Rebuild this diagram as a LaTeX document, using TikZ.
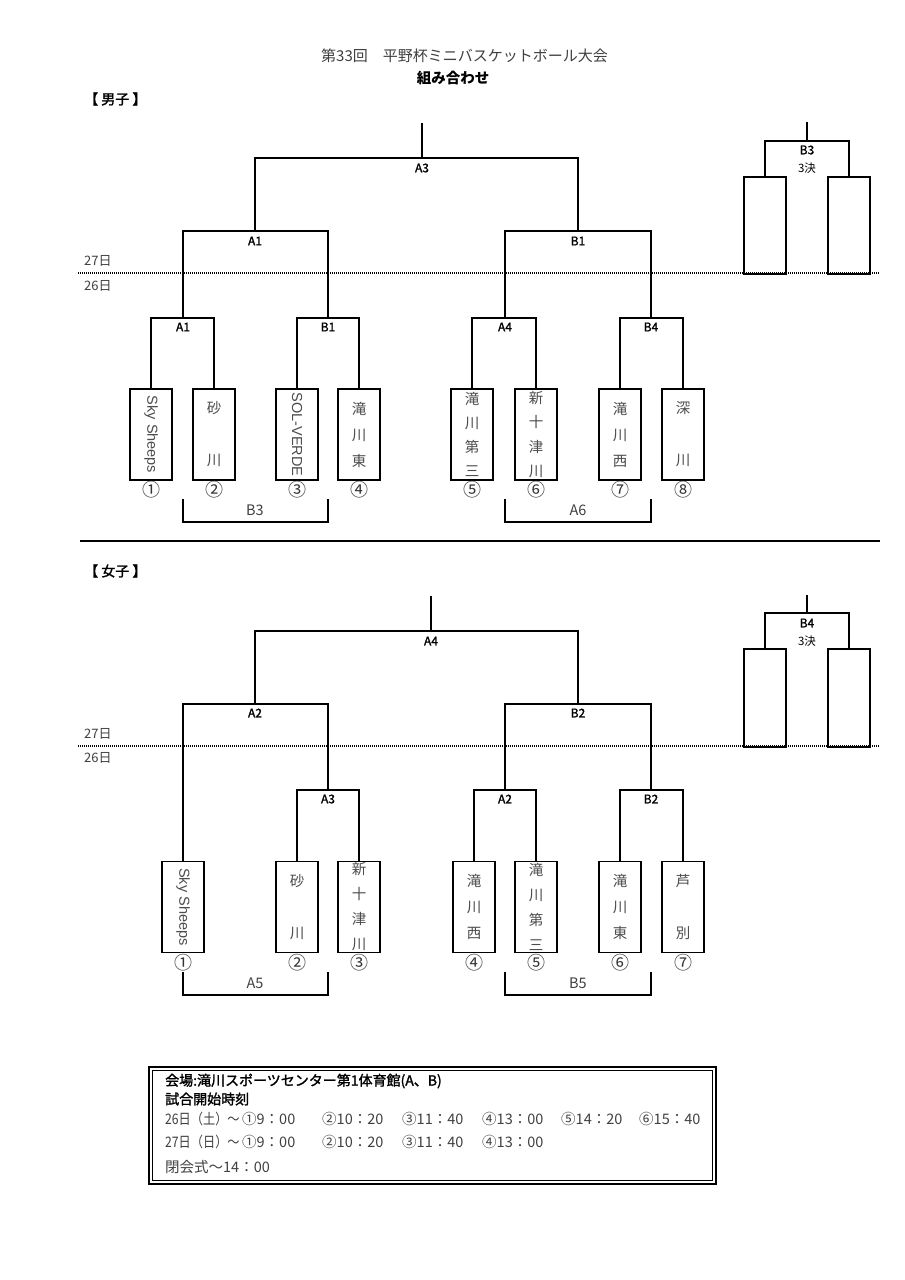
\documentclass[tikz,border=0pt]{standalone}
\usepackage{fontspec}
\usepackage{graphicx}
\setmainfont{Noto Sans CJK JP}
\newfontfamily\latinsans{Liberation Sans}
\newfontfamily\semibold{Noto Sans CJK JP}[FakeBold=1.6]
\tikzset{
  ln/.style={line width=1.8pt, black},
  teambox/.style={draw, line width=1.8pt, minimum width=42pt, minimum height=91pt, inner sep=0pt,
    text=black!70, font=\fontsize{14.5}{26}\selectfont, align=center},
  tinybox/.style={draw, line width=1.8pt, minimum width=42pt, minimum height=97pt, inner sep=0pt},
  lab/.style={font=\fontsize{12}{12}\selectfont\semibold, inner sep=0pt},
  numlab/.style={font=\fontsize{18}{18}\selectfont, text=black!80, inner sep=0pt},
  blab/.style={font=\fontsize{14.5}{14.5}\selectfont, text=black!75, inner sep=0pt},
  daylab/.style={font=\fontsize{13}{13}\selectfont, text=black!75, inner sep=0pt, anchor=west},
  dotline/.style={line width=1.1pt, dash pattern=on 1pt off 1pt},
  infob/.style={font=\fontsize{14}{14}\selectfont\semibold, inner sep=0pt, anchor=west},
  infor/.style={font=\fontsize{14.5}{14.5}\selectfont, text=black!75, inner sep=0pt, anchor=west},
}
\newcommand{\rotname}[1]{\rotatebox{-90}{\latinsans\fontsize{14.5}{15}\selectfont #1}}
\begin{document}
\begin{tikzpicture}[x=1pt,y=-1pt]
\fill[white] (0,0) rectangle (905,1280);
\useasboundingbox (0,0) rectangle (905,1280);

% ---------- titles ----------
\node[font=\fontsize{15}{15}\selectfont, text=black!75, inner sep=0pt] (title) at (464.5,56) {第33回　平野杯ミニバスケットボール大会};
\node[font=\fontsize{14.5}{14.5}\selectfont\bfseries, inner sep=0pt] (subtitle) at (453,78) {組み合わせ};
\node[font=\fontsize{14}{14}\selectfont\semibold, inner sep=0pt, anchor=west] (boys) at (84,99) {【 男子 】};
\node[font=\fontsize{14}{14}\selectfont\semibold, inner sep=0pt, anchor=west] (girls) at (84,571) {【 女子 】};

% ---------- boys ----------
\coordinate (bdl) at (78,273);
\coordinate (bdr) at (880,273);
\draw[dotline] (bdl) -- (bdr);
\node[daylab] (b27) at (84,261) {27日};
\node[daylab] (b26) at (84,286) {26日};

\node[teambox] (m1) at (151,434.5) {\rotname{Sky Sheeps}};
\node[teambox] (m2) at (214,434.5) {砂\\[26pt]川};
\node[teambox] (m3) at (297,434.5) {\rotname{SOL-VERDE}};
\node[teambox] (m4) at (359,434.5) {滝\\川\\東};
\node[teambox, font=\fontsize{14.5}{24.3}\selectfont] (m5) at (472,434.5) {滝\\川\\第\\三};
\node[teambox, font=\fontsize{14.5}{24.3}\selectfont] (m6) at (536,434.5) {新\\十\\津\\川};
\node[teambox] (m7) at (620,434.5) {滝\\川\\西};
\node[teambox] (m8) at (683,434.5) {深\\[26pt]川};

\node[numlab] (n1) at (151,490) {①};
\node[numlab] (n2) at (214,490) {②};
\node[numlab] (n3) at (297,490) {③};
\node[numlab] (n4) at (359,490) {④};
\node[numlab] (n5) at (472,490) {⑤};
\node[numlab] (n6) at (536,490) {⑥};
\node[numlab] (n7) at (620,490) {⑦};
\node[numlab] (n8) at (683,490) {⑧};

\coordinate (j1) at (183,318);
\coordinate (j2) at (328,318);
\coordinate (j3) at (505,318);
\coordinate (j4) at (651,318);
\coordinate (k1) at (255,231);
\coordinate (k2) at (578,231);
\coordinate (t0) at (422,158);
\coordinate (tt) at (422,123);

\draw[ln] (m1.north) |- (j1) -| (m2.north);
\draw[ln] (m3.north) |- (j2) -| (m4.north);
\draw[ln] (m5.north) |- (j3) -| (m6.north);
\draw[ln] (m7.north) |- (j4) -| (m8.north);
\draw[ln] (j1) |- (k1) -| (j2);
\draw[ln] (j3) |- (k2) -| (j4);
\draw[ln] (k1) |- (t0) -| (k2);
\draw[ln] (t0) -- (tt);

\node[lab] (lj1) at (183,327) {A1};
\node[lab] (lj2) at (328,327) {B1};
\node[lab] (lj3) at (505,327) {A4};
\node[lab] (lj4) at (651,327) {B4};
\node[lab] (lk1) at (255,241) {A1};
\node[lab] (lk2) at (578,241) {B1};
\node[lab] (lt0) at (422,168) {A3};

% consolation brackets (boys)
\coordinate (c1a) at (183,499);
\coordinate (c1m) at (255,522);
\coordinate (c1b) at (328,499);
\draw[ln] (c1a) |- (c1m) -| (c1b);
\node[blab] (lc1) at (255,510) {B3};
\coordinate (c2a) at (505,499);
\coordinate (c2m) at (578,522);
\coordinate (c2b) at (651,499);
\draw[ln] (c2a) |- (c2m) -| (c2b);
\node[blab] (lc2) at (578,510) {A6};

% third place (boys)
\node[tinybox] (tb1) at (765,225.5) {};
\node[tinybox] (tb2) at (849,225.5) {};
\coordinate (tbj) at (807,141);
\coordinate (tbt) at (807,122);
\draw[ln] (tb1.north) |- (tbj) -| (tb2.north);
\draw[ln] (tbj) -- (tbt);
\node[lab] (ltb) at (807,150) {B3};
\node[font=\fontsize{11.5}{12}\selectfont, inner sep=0pt] (ltb2) at (807,168) {3決};

% separator
\coordinate (sepl) at (80,541);
\coordinate (sepr) at (880,541);
\draw[line width=1.4pt] (sepl) -- (sepr);

% ---------- girls ----------
\coordinate (gdl) at (78,746);
\coordinate (gdr) at (880,746);
\draw[dotline] (gdl) -- (gdr);
\node[daylab] (g27) at (84,734) {27日};
\node[daylab] (g26) at (84,758) {26日};

\node[teambox] (g1) at (183,907) {\rotname{Sky Sheeps}};
\node[teambox] (g2) at (297,907) {砂\\[26pt]川};
\node[teambox, font=\fontsize{14.5}{25}\selectfont] (g3) at (359,907) {新\\十\\津\\川};
\node[teambox] (g4) at (474,907) {滝\\川\\西};
\node[teambox, font=\fontsize{14.5}{25}\selectfont] (g5) at (536,907) {滝\\川\\第\\三};
\node[teambox] (g6) at (620,907) {滝\\川\\東};
\node[teambox] (g7) at (683,907) {芦\\[26pt]別};

\node[numlab] (gn1) at (183,963) {①};
\node[numlab] (gn2) at (297,963) {②};
\node[numlab] (gn3) at (359,963) {③};
\node[numlab] (gn4) at (474,963) {④};
\node[numlab] (gn5) at (536,963) {⑤};
\node[numlab] (gn6) at (620,963) {⑥};
\node[numlab] (gn7) at (683,963) {⑦};

\coordinate (h1) at (328,790);
\coordinate (h2) at (505,790);
\coordinate (h3) at (651,790);
\coordinate (p1) at (255,704);
\coordinate (p2) at (578,704);
\coordinate (q0) at (431,631);
\coordinate (qt) at (431,596);

\draw[ln] (g2.north) |- (h1) -| (g3.north);
\draw[ln] (g4.north) |- (h2) -| (g5.north);
\draw[ln] (g6.north) |- (h3) -| (g7.north);
\draw[ln] (g1.north) |- (p1) -| (h1);
\draw[ln] (h2) |- (p2) -| (h3);
\draw[ln] (p1) |- (q0) -| (p2);
\draw[ln] (q0) -- (qt);

\node[lab] (lh1) at (328,799) {A3};
\node[lab] (lh2) at (505,799) {A2};
\node[lab] (lh3) at (651,799) {B2};
\node[lab] (lp1) at (255,713) {A2};
\node[lab] (lp2) at (578,713) {B2};
\node[lab] (lq0) at (431,641) {A4};

% consolation brackets (girls)
\coordinate (d1a) at (183,972);
\coordinate (d1m) at (255,995);
\coordinate (d1b) at (328,972);
\draw[ln] (d1a) |- (d1m) -| (d1b);
\node[blab] (ld1) at (255,983) {A5};
\coordinate (d2a) at (505,972);
\coordinate (d2m) at (578,995);
\coordinate (d2b) at (651,972);
\draw[ln] (d2a) |- (d2m) -| (d2b);
\node[blab] (ld2) at (578,983) {B5};

% third place (girls)
\node[tinybox, minimum height=98pt] (tg1) at (765,698) {};
\node[tinybox, minimum height=98pt] (tg2) at (849,698) {};
\coordinate (tgj) at (807,613);
\coordinate (tgt) at (807,595);
\draw[ln] (tg1.north) |- (tgj) -| (tg2.north);
\draw[ln] (tgj) -- (tgt);
\node[lab] (ltg) at (807,623) {B4};
\node[font=\fontsize{11.5}{12}\selectfont, inner sep=0pt] (ltg2) at (807,641) {3決};

% ---------- info box ----------
\draw[line width=1.4pt] (149,1067) rectangle (716,1184);
\draw[line width=1.4pt] (152.5,1070.5) rectangle (712.5,1180.5);
\node[infob] (i1) at (165,1081) {会場:滝川スポーツセンター第1体育館(A、B)};
\node[infob] (i2) at (165,1099) {試合開始時刻};
\node[infor] (i3a) at (165,1119) {\scalebox{0.84}[1]{26日（土）～}};
\node[infor] (i3b) at (242,1119) {①9：00};
\node[infor] (i3c) at (322,1119) {②10：20};
\node[infor] (i3d) at (402,1119) {③11：40};
\node[infor] (i3e) at (482,1119) {④13：00};
\node[infor] (i3f) at (561,1119) {⑤14：20};
\node[infor] (i3g) at (639,1119) {⑥15：40};
\node[infor] (i4a) at (165,1142) {\scalebox{0.84}[1]{27日（日）～}};
\node[infor] (i4b) at (242,1142) {①9：00};
\node[infor] (i4c) at (322,1142) {②10：20};
\node[infor] (i4d) at (402,1142) {③11：40};
\node[infor] (i4e) at (482,1142) {④13：00};
\node[infor] (i5) at (165,1167) {閉会式～14：00};
\end{tikzpicture}
\end{document}
